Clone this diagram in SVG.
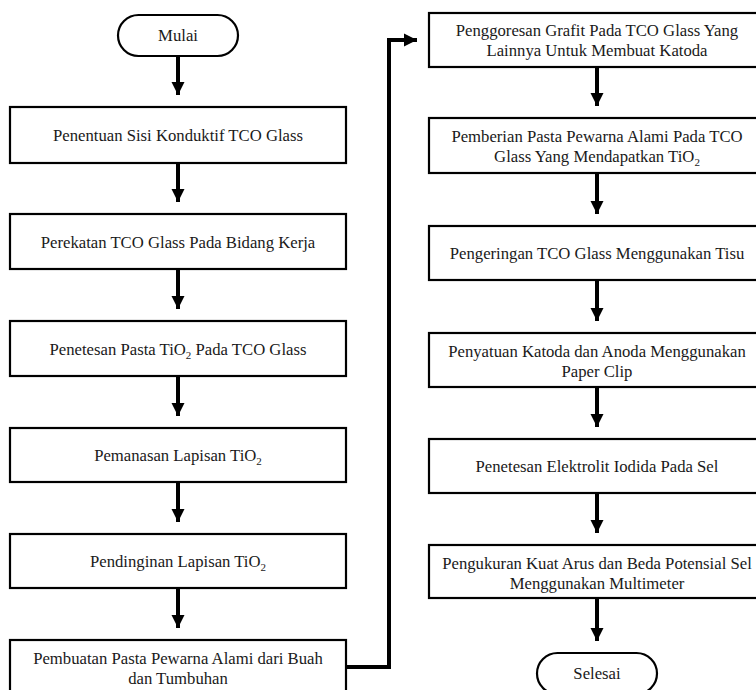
<svg xmlns="http://www.w3.org/2000/svg" width="756" height="690" viewBox="0 0 756 690">
<defs>
<style>
.box{fill:#fff;stroke:#000;stroke-width:2.2}
.t{font-family:'Liberation Serif','Times New Roman','DejaVu Serif',serif;font-size:16.7px;fill:#1a1a1a;text-anchor:middle}
.c{fill:none;stroke:#000;stroke-width:4}
.sub{font-size:11px}
</style>
<marker id="ah" markerUnits="userSpaceOnUse" markerWidth="14" markerHeight="14" refX="13" refY="7" orient="auto">
<path d="M0,0.5 L13,7 L0,13.5 Z" fill="#000"/>
</marker>
</defs>
<rect width="756" height="690" fill="#fff"/>
<g id="connectors">
<path class="c" d="M178,56 V95" marker-end="url(#ah)"/>
<path class="c" d="M178,163 V202" marker-end="url(#ah)"/>
<path class="c" d="M178,269 V309" marker-end="url(#ah)"/>
<path class="c" d="M178,376 V416" marker-end="url(#ah)"/>
<path class="c" d="M178,482 V522" marker-end="url(#ah)"/>
<path class="c" d="M178,588 V628" marker-end="url(#ah)"/>
<path class="c" d="M346,667 H389 V40 H417" marker-end="url(#ah)"/>
<path class="c" d="M597,67 V106" marker-end="url(#ah)"/>
<path class="c" d="M597,173 V214" marker-end="url(#ah)"/>
<path class="c" d="M597,280 V321" marker-end="url(#ah)"/>
<path class="c" d="M597,387 V427" marker-end="url(#ah)"/>
<path class="c" d="M597,493 V533" marker-end="url(#ah)"/>
<path class="c" d="M597,598 V641" marker-end="url(#ah)"/>
</g>
<g id="mulai">
<rect class="box" x="118" y="15" width="120" height="41" rx="20.5"/>
<text class="t" x="178" y="41">Mulai</text>
</g>
<g id="n1">
<rect class="box" x="10" y="107" width="336" height="56"/>
<text class="t" x="178" y="141">Penentuan Sisi Konduktif TCO Glass</text>
</g>
<g id="n2">
<rect class="box" x="10" y="214" width="336" height="55"/>
<text class="t" x="178" y="248">Perekatan TCO Glass Pada Bidang Kerja</text>
</g>
<g id="n3">
<rect class="box" x="10" y="321" width="336" height="55"/>
<text class="t" x="178" y="355">Penetesan Pasta TiO<tspan class="sub" dy="4">2</tspan><tspan dy="-4"> Pada TCO Glass</tspan></text>
</g>
<g id="n4">
<rect class="box" x="10" y="428" width="336" height="54"/>
<text class="t" x="178" y="461">Pemanasan Lapisan TiO<tspan class="sub" dy="4">2</tspan></text>
</g>
<g id="n5">
<rect class="box" x="10" y="534" width="336" height="54"/>
<text class="t" x="178" y="567">Pendinginan Lapisan TiO<tspan class="sub" dy="4">2</tspan></text>
</g>
<g id="n6">
<rect class="box" x="10" y="640" width="336" height="60"/>
<text class="t" x="178" y="664">Pembuatan Pasta Pewarna Alami dari Buah</text>
<text class="t" x="178" y="684">dan Tumbuhan</text>
</g>
<g id="r1">
<rect class="box" x="429" y="13" width="336" height="54"/>
<text class="t" x="597" y="36">Penggoresan Grafit Pada TCO Glass Yang</text>
<text class="t" x="597" y="56">Lainnya Untuk Membuat Katoda</text>
</g>
<g id="r2">
<rect class="box" x="429" y="118" width="336" height="55"/>
<text class="t" x="597" y="142">Pemberian Pasta Pewarna Alami Pada TCO</text>
<text class="t" x="597" y="162">Glass Yang Mendapatkan TiO<tspan class="sub" dy="4">2</tspan></text>
</g>
<g id="r3">
<rect class="box" x="429" y="226" width="336" height="54"/>
<text class="t" x="597" y="259">Pengeringan TCO Glass Menggunakan Tisu</text>
</g>
<g id="r4">
<rect class="box" x="429" y="333" width="336" height="54"/>
<text class="t" x="597" y="357">Penyatuan Katoda dan Anoda Menggunakan</text>
<text class="t" x="597" y="377">Paper Clip</text>
</g>
<g id="r5">
<rect class="box" x="429" y="439" width="336" height="54"/>
<text class="t" x="597" y="472">Penetesan Elektrolit Iodida Pada Sel</text>
</g>
<g id="r6">
<rect class="box" x="429" y="545" width="336" height="53"/>
<text class="t" x="597" y="569">Pengukuran Kuat Arus dan Beda Potensial Sel</text>
<text class="t" x="597" y="589">Menggunakan Multimeter</text>
</g>
<g id="selesai">
<rect class="box" x="537" y="653" width="120" height="41" rx="20.5"/>
<text class="t" x="597" y="679">Selesai</text>
</g>
</svg>
